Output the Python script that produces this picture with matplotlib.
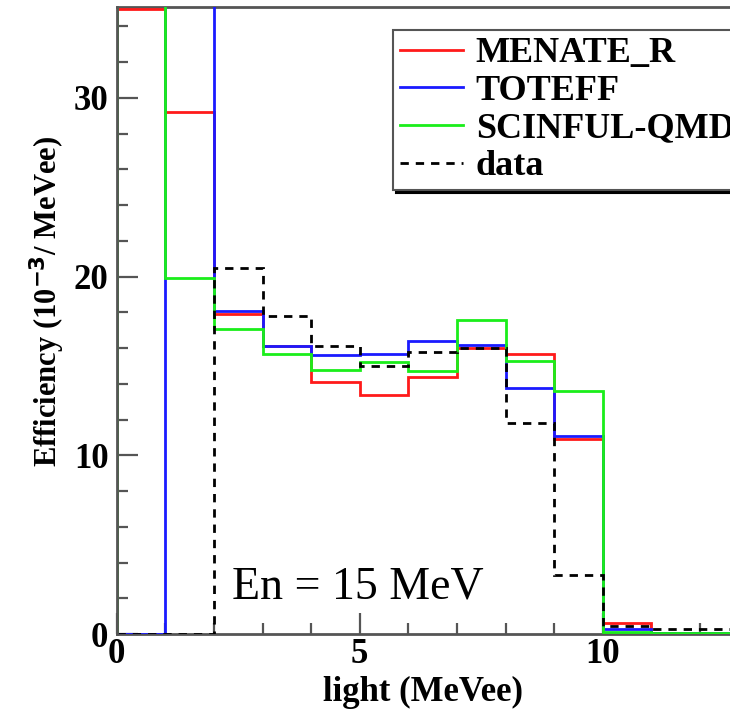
import matplotlib
matplotlib.use('Agg')
import matplotlib.pyplot as plt
import numpy as np

# bin edges (MeVee) and efficiencies (10^-3 / MeVee); first bins run off the top
edges = [0, 1, 2, 3, 4, 5, 6, 7, 8, 9, 10, 11, 12, 13]
menate_r = [35.0, 29.2, 17.9, 16.1, 14.1, 13.4, 14.4, 16.0, 15.7, 10.9, 0.65, 0.05, 0.05]
toteff = [0.0, 55.0, 18.1, 16.1, 15.6, 15.7, 16.4, 16.2, 13.8, 11.1, 0.3, 0.05, 0.05]
scinful = [45.0, 19.9, 17.1, 15.7, 14.8, 15.2, 14.7, 17.6, 15.3, 13.6, 0.1, 0.05, 0.05]
data = [0.0, 0.0, 20.5, 17.8, 16.1, 15.0, 15.8, 16.0, 11.8, 3.3, 0.45, 0.28, 0.28]

SERIF = ['Liberation Serif', 'DejaVu Serif']

fig = plt.figure(figsize=(7.3, 7.11), dpi=100)
ax = fig.add_axes([0.160, 0.108, 0.84, 0.882])

ax.stairs(menate_r, edges, color='#ff1a1a', lw=2.0, label='MENATE_R', zorder=3)
ax.stairs(toteff, edges, color='#1a1aff', lw=2.0, label='TOTEFF', zorder=4)
ax.stairs(scinful, edges, color='#1aee1a', lw=2.0, label='SCINFUL-QMD', zorder=5)
ax.stairs(data, edges, color='black', lw=2.0, ls=(0, (3, 2.5)), label='data', zorder=6)

ax.set_xlim(0, 12.62)
ax.set_ylim(0, 35.08)
ax.set_xticks([0, 5, 10])
ax.set_xticks(np.arange(0, 13, 1), minor=True)
ax.set_yticks([0, 10, 20, 30])
ax.set_yticks(np.arange(0, 35, 2), minor=True)

for s in ['left', 'top', 'bottom']:
    ax.spines[s].set_color('#555555')
    ax.spines[s].set_linewidth(2.0)
ax.spines['left'].set_zorder(10)
ax.spines['right'].set_visible(False)
ax.tick_params(which='both', direction='in', color='#555555', width=1.6,
               right=False, top=False)
ax.tick_params(which='major', length=15, pad=6)
ax.tick_params(axis='x', which='major', pad=3)
ax.tick_params(which='minor', length=8)

for lab in ax.get_xticklabels() + ax.get_yticklabels():
    lab.set_fontfamily(SERIF)
    lab.set_fontweight('bold')
    lab.set_fontsize(25)

ax.set_xlabel('light (MeVee)', fontfamily=SERIF, fontweight='bold', fontsize=25)
ax.xaxis.set_label_coords(0.5, -0.066)
ax.set_ylabel(r'Efficiency (10$^{\mathbf{-3}}$/ MeVee)', fontfamily=SERIF,
              fontweight='bold', fontsize=22)
ax.yaxis.set_label_coords(-0.082, 0.53)

ax.text(0.188, 0.075, 'En = 15 MeV', transform=ax.transAxes, fontfamily=SERIF,
        fontsize=33, ha='left', va='center')

leg = ax.legend(loc='upper left', bbox_to_anchor=(0.538, 0.958), bbox_transform=fig.transFigure,
                prop={'family': SERIF, 'weight': 'bold', 'size': 26},
                frameon=True, fancybox=False, shadow={'color': 'black', 'alpha': 1},
                handlelength=1.75, handletextpad=0.35, borderpad=0.2, borderaxespad=0,
                labelspacing=0.12)
leg.get_frame().set_edgecolor('#555555')
leg.get_frame().set_linewidth(1.5)

fig.savefig('out.png', dpi=100)
